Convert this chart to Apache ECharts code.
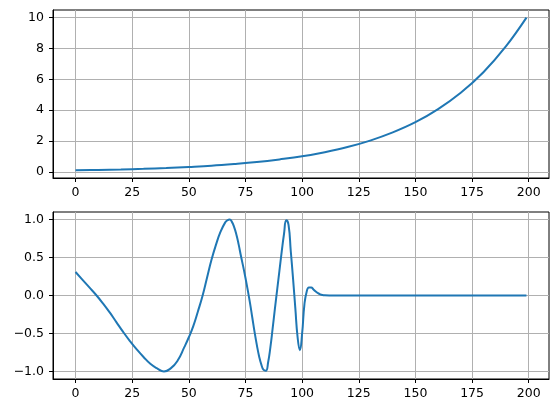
<!DOCTYPE html>
<html>
<head>
<meta charset="utf-8">
<script src="https://cdn.jsdelivr.net/npm/echarts@6/dist/echarts.min.js"></script>
<style>
  html, body { margin: 0; padding: 0; background: #fff; }
  #chart { width: 559px; height: 413px; }
</style>
</head>
<body>
<div id="chart"></div>
<script>
// 上图：指数曲线（读图取值）
const topX = [0, 10, 20, 30, 40, 50, 60, 70, 80, 90, 100, 110, 120, 130, 140, 150, 160, 170, 180, 190, 199];
const topY = [0.10, 0.13, 0.16, 0.20, 0.25, 0.32, 0.40, 0.51, 0.64, 0.81, 1.01, 1.28, 1.61, 2.03, 2.56, 3.22, 4.07, 5.13, 6.46, 8.15, 10.0];

// 下图：振荡曲线（读图取值）
const bottomX = [0, 3, 6, 9, 12, 15, 18, 21, 24, 27, 30, 33, 36, 39, 42, 45, 48, 50, 52, 54, 56, 58, 60, 62, 64, 66, 67, 68,
  69, 70, 71, 72, 73, 74, 75, 76, 77, 78, 79, 80, 81, 82, 83, 84, 85, 86, 87, 88, 89, 90, 91, 92, 93,
  94, 95, 96, 97, 98, 99, 100, 101, 102, 103, 104, 105, 106, 107, 108, 109, 110, 112, 150, 199];
const bottomY = [0.31, 0.21, 0.11, 0.01, -0.10, -0.22, -0.35, -0.48, -0.60, -0.71, -0.81, -0.90, -0.96, -1.0, -0.96, -0.86, -0.68, -0.55, -0.40, -0.21, -0.01, 0.23, 0.47, 0.67, 0.84, 0.96, 0.99, 1.0,
  0.97, 0.90, 0.80, 0.67, 0.52, 0.38, 0.23, 0.07, -0.10, -0.29, -0.48, -0.65, -0.80, -0.91, -0.98, -0.99, -0.88, -0.68, -0.43, -0.17, 0.08, 0.33, 0.58, 0.81, 0.99,
  0.93, 0.58, 0.22, -0.17, -0.55, -0.72, -0.50, -0.12, 0.05, 0.105, 0.105, 0.08, 0.052, 0.03, 0.015, 0.006, 0.002, 0, 0, 0];

// 刻度
const xTicks = [0, 25, 50, 75, 100, 125, 150, 175, 200];
const topYTicks = [0, 2, 4, 6, 8, 10];
const bottomYTicks = [-1, -0.5, 0, 0.5, 1];

const font = { fontFamily: 'DejaVu Sans', fontSize: 12.5, color: '#000' };
const splitStyle = { show: true, lineStyle: { color: '#b0b0b0', width: 1 } };
const axisLineStyle = { show: true, onZero: false, lineStyle: { color: '#000', width: 1 } };

function zip(xs, ys) {
  return xs.map((x, i) => [x, ys[i]]);
}
function mplNum(v, digits) {
  return v.toFixed(digits).replace('-', '\u2212');
}

function xAxisOf(gridIndex) {
  return {
    type: 'value',
    gridIndex: gridIndex,
    min: -9.95,
    max: 208.95,
    axisLine: axisLineStyle,
    axisTick: { show: true, length: 4, lineStyle: { color: '#000' }, customValues: xTicks },
    axisLabel: { ...font, margin: 8, customValues: xTicks, formatter: v => String(v) },
    splitLine: splitStyle
  };
}

let chart = echarts.init(document.getElementById('chart'), null, { renderer: 'canvas' });
let option = {
  animation: false,
  grid: [
    { left: 53, top: 10, width: 496, height: 168, show: true, borderColor: '#000', borderWidth: 1 },
    { left: 53, top: 212, width: 496, height: 167, show: true, borderColor: '#000', borderWidth: 1 }
  ],
  xAxis: [xAxisOf(0), xAxisOf(1)],
  yAxis: [
    {
      type: 'value',
      gridIndex: 0,
      min: -0.395,
      max: 10.495,
      axisLine: axisLineStyle,
      axisTick: { show: true, length: 4, lineStyle: { color: '#000' }, customValues: topYTicks },
      axisLabel: { ...font, margin: 9, customValues: topYTicks, formatter: v => String(v) },
      splitLine: splitStyle
    },
    {
      type: 'value',
      gridIndex: 1,
      min: -1.1,
      max: 1.1,
      axisLine: axisLineStyle,
      axisTick: { show: true, length: 4, lineStyle: { color: '#000' }, customValues: bottomYTicks },
      axisLabel: { ...font, margin: 9, customValues: bottomYTicks, formatter: v => mplNum(v, 1) },
      splitLine: splitStyle
    }
  ],
  series: [
    {
      type: 'line',
      xAxisIndex: 0,
      yAxisIndex: 0,
      data: zip(topX, topY),
      smooth: 0.4,
      showSymbol: false,
      lineStyle: { color: '#1f77b4', width: 2 }
    },
    {
      type: 'line',
      xAxisIndex: 1,
      yAxisIndex: 1,
      data: zip(bottomX, bottomY),
      smooth: 0.5,
      showSymbol: false,
      lineStyle: { color: '#1f77b4', width: 2 }
    }
  ]
};
chart.setOption(option, true);
</script>
</body>
</html>
